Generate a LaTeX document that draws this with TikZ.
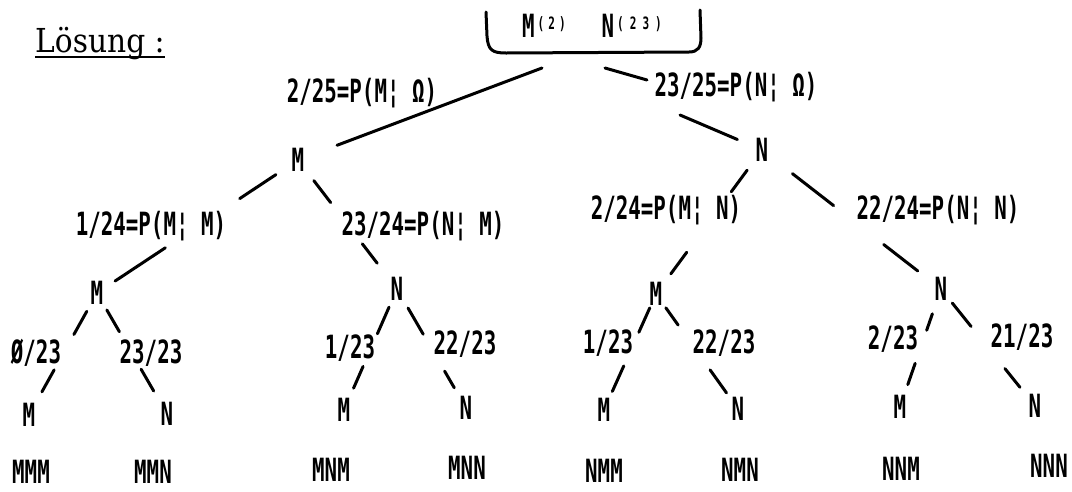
\documentclass[tikz,border=0pt]{standalone}
\usepackage{fontspec}
\newfontfamily\twfont{DejaVu Sans Mono}[FakeStretch=0.65]
\newfontfamily\serifx{DejaVu Serif}[FakeStretch=0.9]
\usetikzlibrary{calc}
\newcommand\supx[1]{\raisebox{8pt}{\fontsize{17}{17}\selectfont #1}}
\newcommand\connseg[4]{\draw[conn] ($(#1)!#3!(#2)$) -- ($(#1)!#4!(#2)$);}
\begin{document}
\begin{tikzpicture}[x=1pt,y=-1pt,
  lbl/.style={font=\twfont\bfseries\fontsize{32}{33}\selectfont, inner sep=0pt, text height=23pt, text depth=0pt},
  conn/.style={line width=3pt, line cap=round}]
\useasboundingbox (0,0) rectangle (1072,491);
% heading
\node[font=\serifx\fontsize{33}{35}\selectfont, inner sep=0pt, anchor=base west] (los) at (35,52) {Lösung :};
\draw[line width=2.4pt] ($(los.base west)+(0,5)$) -- ($(los.base east)+(0,5)$);
% root
\node[lbl, anchor=west] (root) at (522,26) {M\kern3pt\supx{(\kern4pt 2\kern4pt)}\hspace{36pt}N\kern3pt\supx{(\kern6pt 2\kern6pt 3\kern6pt)}};
\draw[conn, line join=round] (486,12) -- (487,36) .. controls (488,50) and (492,53) .. (506,53) -- (689,52) .. controls (698,52) and (701,47) .. (701,38) -- (700,10);
% level 1
\node[lbl] (M1) at (298,160) {M};
\node[lbl] (N1) at (762,150) {N};
\node[lbl] (lr1) at (362,91) {2/25=P(M¦ Ω)};
\node[lbl] (lr2) at (736,85) {23/25=P(N¦ Ω)};
% level 2
\node[lbl] (l11) at (151,224) {1/24=P(M¦ M)};
\node[lbl] (l12) at (423,224) {23/24=P(N¦ M)};
\node[lbl] (l21) at (666,208) {2/24=P(M¦ N)};
\node[lbl] (l22) at (938,208) {22/24=P(N¦ N)};
\node[lbl] (M2) at (97,293) {M};
\node[lbl] (N2) at (397,289) {N};
\node[lbl] (M3) at (656,294) {M};
\node[lbl] (N3) at (941,289) {N};
% level 3 labels
\node[lbl] (p1) at (36,352) {Ø/23};
\node[lbl] (p2) at (151,352) {23/23};
\node[lbl] (p3) at (350,347) {1/23};
\node[lbl] (p4) at (465,343) {22/23};
\node[lbl] (p5) at (608,342) {1/23};
\node[lbl] (p6) at (724,342) {22/23};
\node[lbl] (p7) at (893,338) {2/23};
\node[lbl] (p8) at (1022,336) {21/23};
% leaves
\node[lbl] (L1) at (29,415) {M};
\node[lbl] (L2) at (167,414) {N};
\node[lbl] (L3) at (344,410) {M};
\node[lbl] (L4) at (466,408) {N};
\node[lbl] (L5) at (604,410) {M};
\node[lbl] (L6) at (738,409) {N};
\node[lbl] (L7) at (900,407) {M};
\node[lbl] (L8) at (1035,406) {N};
% outcomes
\node[lbl] (B1) at (31,472) {MMM};
\node[lbl] (B2) at (153,472) {MMN};
\node[lbl] (B3) at (331,470) {MNM};
\node[lbl] (B4) at (467,468) {MNN};
\node[lbl] (B5) at (604,471) {NMM};
\node[lbl] (B6) at (740,470) {NMN};
\node[lbl] (B7) at (901,469) {NNM};
\node[lbl] (B8) at (1049,466) {NNN};
% connectors from root
\coordinate (rl) at (542,68);
\coordinate (rr) at (605,68);
\coordinate (rr2) at (647,80);
\coordinate (rr3) at (680,115);
\connseg{rl}{M1}{0}{0.84}
\draw[conn] (rr) -- (rr2);
\connseg{rr3}{N1}{0}{0.7}
% level 1 -> 2
\connseg{M1}{M2}{0.11}{0.29}
\connseg{M1}{M2}{0.66}{0.91}
\connseg{M1}{N2}{0.16}{0.33}
\connseg{M1}{N2}{0.65}{0.80}
\connseg{N1}{M3}{0.14}{0.29}
\connseg{N1}{M3}{0.71}{0.86}
\connseg{N1}{N3}{0.17}{0.40}
\connseg{N1}{N3}{0.68}{0.87}
% level 2 -> 3
\connseg{M2}{L1}{0.15}{0.34}
\connseg{M2}{L1}{0.63}{0.81}
\connseg{M2}{L2}{0.14}{0.32}
\connseg{M2}{L2}{0.63}{0.81}
\connseg{N2}{L3}{0.15}{0.37}
\connseg{N2}{L3}{0.64}{0.82}
\connseg{N2}{L4}{0.16}{0.38}
\connseg{N2}{L4}{0.69}{0.83}
\connseg{M3}{L5}{0.12}{0.33}
\connseg{M3}{L5}{0.62}{0.84}
\connseg{M3}{L6}{0.12}{0.27}
\connseg{M3}{L6}{0.66}{0.86}
\connseg{N3}{L7}{0.21}{0.35}
\connseg{N3}{L7}{0.63}{0.81}
\connseg{N3}{L8}{0.12}{0.32}
\connseg{N3}{L8}{0.68}{0.84}
\end{tikzpicture}
\end{document}
